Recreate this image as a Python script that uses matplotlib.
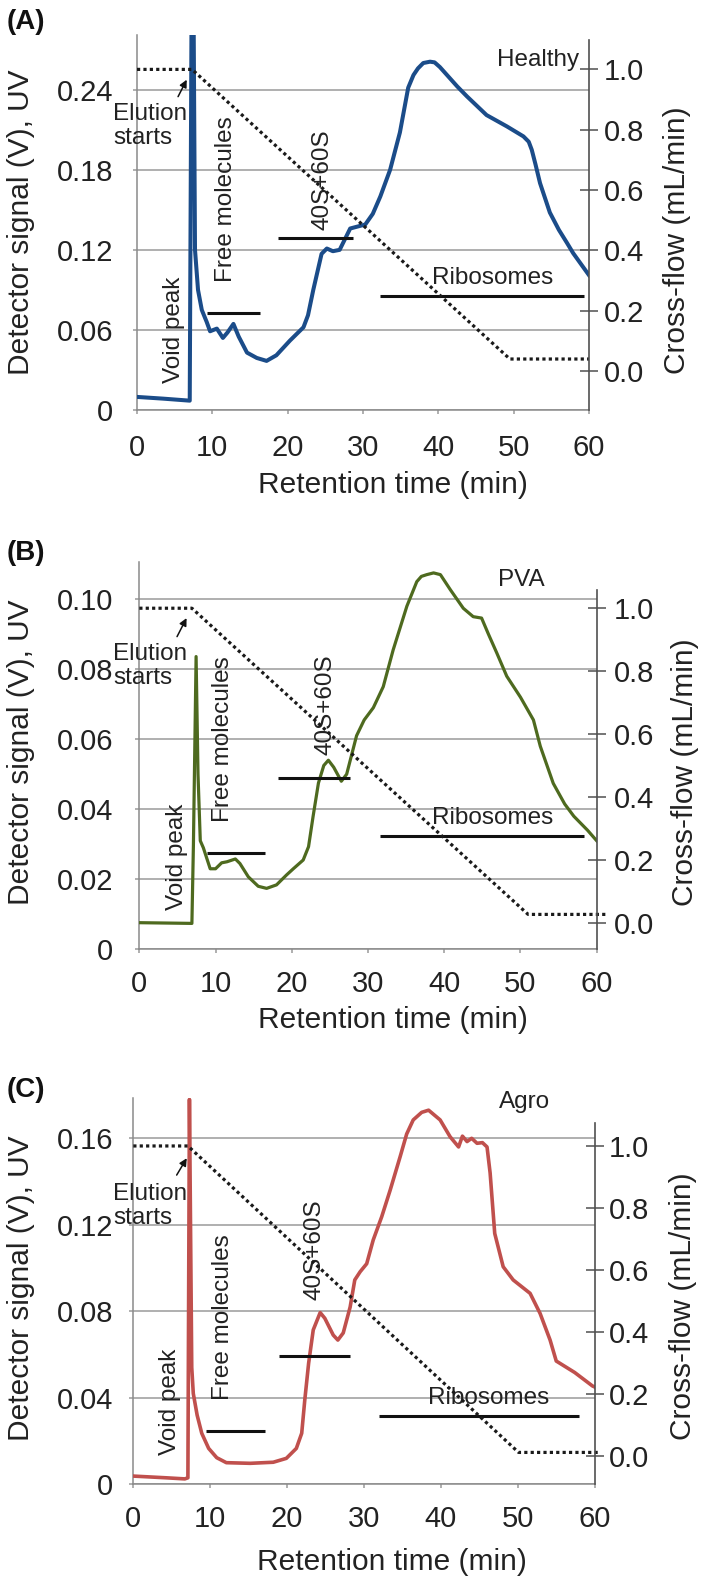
import matplotlib
matplotlib.use('Agg')
import matplotlib.pyplot as plt

plt.rcParams['font.family'] = ['Liberation Sans', 'DejaVu Sans']

W, H = 709, 1580

# detector signal traces (min, V)
healthy_t = [0, 3.5, 7.0, 7.25, 7.5, 7.7, 8.1, 8.6, 9.25, 9.7, 10.6, 11.4, 12.0, 12.8, 13.5, 14.6, 15.9,
             17.2, 18.5, 20.3, 22.1, 22.7, 23.4, 24.5, 25.2, 26.0, 26.9, 27.6, 28.3, 30.3, 31.3, 32.3, 33.6,
             34.9, 36.0, 36.7, 37.3, 38.0, 38.9, 39.5, 40.2, 42.5, 43.8, 46.4, 49.1, 51.3, 52.0, 52.4, 52.9,
             53.5, 54.8, 56.0, 57.1, 57.9, 60]
healthy_uv = [0.0098, 0.0085, 0.007, 0.31, 0.31, 0.12, 0.09, 0.075, 0.066, 0.059, 0.061, 0.054, 0.058, 0.0645,
              0.055, 0.043, 0.039, 0.0368, 0.041, 0.052, 0.062, 0.071, 0.09, 0.117, 0.121, 0.119, 0.120, 0.128,
              0.136, 0.139, 0.147, 0.16, 0.18, 0.208, 0.2415, 0.251, 0.256, 0.26, 0.261, 0.2605, 0.257, 0.2425,
              0.235, 0.221, 0.2125, 0.205, 0.201, 0.195, 0.184, 0.17, 0.148, 0.135, 0.125, 0.1175, 0.101]

pva_t = [0, 3.5, 6.9, 7.1, 7.45, 7.7, 8.0, 8.4, 9.3, 10.0, 10.8, 11.5, 12.6, 13.2, 14.3, 15.6, 16.7, 18.0,
         19.3, 20.2, 21.5, 22.2, 22.8, 23.5, 24.2, 24.8, 25.5, 26.5, 27.2, 28.5, 29.5, 30.7, 32.0, 33.3, 35.1,
         36.4, 37.0, 37.7, 38.6, 39.5, 40.8, 42.5, 43.8, 44.9, 45.8, 46.9, 48.2, 50.0, 51.7, 52.6, 54.3, 55.8,
         57.0, 58.8, 60]
pva_uv = [0.0076, 0.0075, 0.0074, 0.03, 0.0836, 0.05, 0.031, 0.029, 0.023, 0.023, 0.0247, 0.025, 0.0258, 0.0245,
          0.0207, 0.018, 0.0174, 0.0184, 0.0212, 0.023, 0.0255, 0.0293, 0.038, 0.0475, 0.0525, 0.054, 0.052,
          0.048, 0.050, 0.061, 0.0655, 0.069, 0.075, 0.0855, 0.098, 0.105, 0.1065, 0.107, 0.1075, 0.107, 0.1027,
          0.0974, 0.095, 0.0946, 0.09, 0.0846, 0.078, 0.072, 0.0655, 0.058, 0.0474, 0.0415, 0.038, 0.034, 0.031]

agro_t = [0, 4.3, 6.7, 7.1, 7.3, 7.6, 7.8, 8.3, 8.9, 9.8, 10.85, 12.1, 15.2, 18.2, 19.9, 21.2, 21.9, 22.3,
          22.8, 23.4, 24.3, 24.9, 26.0, 26.6, 27.3, 28.2, 28.8, 29.5, 30.35, 31.2, 32.3, 33.4, 34.7, 35.55,
          36.4, 37.5, 38.4, 39.9, 41.2, 42.3, 42.8, 43.4, 44.0, 44.7, 45.4, 46.0, 46.4, 47.0, 48.1, 49.4,
          51.6, 52.9, 54.2, 55.0, 57.4, 59.7, 60]
agro_uv = [0.0038, 0.003, 0.0025, 0.003, 0.178, 0.054, 0.042, 0.032, 0.0236, 0.0166, 0.0123, 0.010, 0.0097,
           0.0102, 0.012, 0.0166, 0.0236, 0.039, 0.056, 0.0714, 0.0794, 0.0768, 0.069, 0.0667, 0.070, 0.082,
           0.0945, 0.0983, 0.102, 0.113, 0.1237, 0.136, 0.1515, 0.162, 0.1685, 0.172, 0.173, 0.1685, 0.1607,
           0.156, 0.161, 0.1585, 0.160, 0.1577, 0.158, 0.156, 0.144, 0.116, 0.1006, 0.0945, 0.0883, 0.079,
           0.0667, 0.057, 0.0517, 0.0455, 0.045]

# cross-flow programmes (min, mL/min)
healthy_flow_t = [0, 7.3, 49.5, 60]
healthy_flow = [1.0, 1.0, 0.04, 0.04]
pva_flow_t = [0, 6.9, 51.0, 61.2]
pva_flow = [1.0, 1.0, 0.026, 0.026]
agro_flow_t = [0, 7.1, 50.1, 60.6]
agro_flow = [1.0, 1.0, 0.01, 0.01]

x_ticks = [0, 10, 20, 30, 40, 50, 60]
flow_ticks = [0.0, 0.2, 0.4, 0.6, 0.8, 1.0]
flow_tick_labels = ['0.0', '0.2', '0.4', '0.6', '0.8', '1.0']

PANELS = [
    dict(letter='(A)', name='Healthy', t=healthy_t, uv=healthy_uv, ft=healthy_flow_t, f=healthy_flow,
         color='#1B4C89', lw=2.9, box=(137, 35, 589, 410), ytop=0.281,
         yticks=[0, 0.06, 0.12, 0.18, 0.24], ylabels=['0', '0.06', '0.12', '0.18', '0.24'],
         flim=(-0.129, 1.114), fspine=1.098, fpad=4.3, xpad=14.5,
         name_xy=(58.7, 0.2625, 'right'), elution=(-3.2, 0.2126), arrow=((6.6, 0.2475), (5.45, 0.2348)),
         void=(4.9, 0.020), free=(11.8, 0.096), s40=(24.6, 0.135), ribo=(47.2, 0.099),
         bars=[(9.25, 16.3, 0.073), (18.7, 28.7, 0.129), (32.3, 59.3, 0.0857)],
         ylab=(21.5, 222), rlab=(677, 240), xlab=(393, 485), letter_y=22),
    dict(letter='(B)', name='PVA', t=pva_t, uv=pva_uv, ft=pva_flow_t, f=pva_flow,
         color='#4E6A1F', lw=2.3, box=(139.3, 561.7, 596.7, 949.3), ytop=0.1107,
         yticks=[0, 0.02, 0.04, 0.06, 0.08, 0.10], ylabels=['0', '0.02', '0.04', '0.06', '0.08', '0.10'],
         flim=(-0.085, 1.148), fspine=1.058, fpad=6.0, xpad=11.8,
         name_xy=(47.0, 0.1055, 'left'), elution=(-3.4, 0.081), arrow=((6.2, 0.0946), (4.95, 0.0893)),
         void=(4.9, 0.0112), free=(11.0, 0.0365), s40=(24.4, 0.0555), ribo=(46.35, 0.0374),
         bars=[(8.85, 16.5, 0.0276), (18.2, 27.65, 0.049), (31.6, 58.3, 0.0324)],
         ylab=(21.5, 752), rlab=(685, 772), xlab=(393, 1020), letter_y=553),
    dict(letter='(C)', name='Agro', t=agro_t, uv=agro_uv, ft=agro_flow_t, f=agro_flow,
         color='#C0504D', lw=2.6, box=(133.3, 1098.3, 594.7, 1484.3), ytop=0.1785,
         yticks=[0, 0.04, 0.08, 0.12, 0.16], ylabels=['0', '0.04', '0.08', '0.12', '0.16'],
         flim=(-0.093, 1.154), fspine=1.073, fpad=4.0, xpad=11.8,
         name_xy=(47.5, 0.177, 'left'), elution=(-2.6, 0.1287), arrow=((6.95, 0.1508), (5.64, 0.143)),
         void=(4.8, 0.0135), free=(11.7, 0.039), s40=(23.6, 0.0852), ribo=(46.2, 0.0399),
         bars=[(9.5, 17.1, 0.0248), (18.9, 28.2, 0.0593), (31.9, 58.0, 0.0318)],
         ylab=(21.5, 1288), rlab=(683, 1306), xlab=(392, 1562), letter_y=1090),
]

TICK_FS = 21
LABEL_FS = 21.5
NOTE_FS = 17.5
GRID = '#9a9a9a'
DARK = '#505050'
TXT = '#222222'


def fig_xy(x, y):
    return x / W, 1 - y / H


def draw_panel(fig, p):
    l, t, r, b = p['box']
    ax = fig.add_axes([l / W, 1 - b / H, (r - l) / W, (b - t) / H])
    ax.plot(p['t'], p['uv'], color=p['color'], lw=p['lw'], solid_joinstyle='round', zorder=3)
    ax.set_xlim(0, 60)
    ax.set_ylim(0, p['ytop'])
    ax.set_xticks(x_ticks)
    ax.set_yticks(p['yticks'])
    ax.set_yticklabels(p['ylabels'])
    ax.grid(axis='y', color=GRID, lw=1.1)
    ax.set_axisbelow(True)
    for side in ('top', 'right'):
        ax.spines[side].set_visible(False)
    for side in ('left', 'bottom'):
        ax.spines[side].set_color('#8a8a8a')
        ax.spines[side].set_linewidth(1.1)
    left_pad = (l - 113.3) * 0.72 - 3
    ax.tick_params(axis='y', length=3, width=1.1, color=GRID, labelsize=TICK_FS, labelcolor=TXT, pad=left_pad)
    ax.tick_params(axis='x', length=3, width=1.1, color=GRID, labelsize=TICK_FS, labelcolor=TXT, pad=p['xpad'])

    # fraction markers
    for x0, x1, y in p['bars']:
        ax.plot([x0, x1], [y, y], color='#111111', lw=2.2, solid_capstyle='butt', zorder=4)

    ax.text(p['void'][0], p['void'][1], 'Void peak', rotation=90, ha='center', va='bottom',
            fontsize=NOTE_FS, color=TXT)
    ax.text(p['free'][0], p['free'][1], 'Free molecules', rotation=90, ha='center', va='bottom',
            fontsize=NOTE_FS, color=TXT)
    ax.text(p['s40'][0], p['s40'][1], '40S+60S', rotation=90, ha='center', va='bottom',
            fontsize=NOTE_FS, color=TXT)
    ax.text(p['ribo'][0], p['ribo'][1], 'Ribosomes', ha='center', va='center', fontsize=NOTE_FS, color=TXT)
    nx, ny, nha = p['name_xy']
    ax.text(nx, ny, p['name'], ha=nha, va='center', fontsize=NOTE_FS, color=TXT)
    ax.text(p['elution'][0], p['elution'][1], 'Elution\nstarts', ha='left', va='center',
            fontsize=NOTE_FS, color=TXT, linespacing=1.1)
    head, tail = p['arrow']
    ax.annotate('', xy=head, xytext=tail,
                arrowprops=dict(arrowstyle='-|>', color='#111111', lw=1.1, mutation_scale=11,
                                shrinkA=0, shrinkB=0))

    ax2 = ax.twinx()
    ax2.plot(p['ft'], p['f'], color='#1a1a1a', lw=2.3, linestyle=(0, (1, 1.0)),
             dash_capstyle='butt', clip_on=False)
    ax2.set_ylim(*p['flim'])
    ax2.set_yticks(flow_ticks)
    ax2.set_yticklabels(flow_tick_labels)
    for side in ('top', 'left', 'bottom'):
        ax2.spines[side].set_visible(False)
    ax2.spines['right'].set_color(DARK)
    ax2.spines['right'].set_linewidth(1.2)
    ax2.spines['right'].set_bounds(p['flim'][0], p['fspine'])
    ax2.tick_params(axis='y', direction='inout', length=12.5, width=1.1, color=DARK,
                    labelsize=TICK_FS, labelcolor=TXT, pad=p['fpad'])

    fx, fy = fig_xy(*p['ylab'])
    fig.text(fx, fy, 'Detector signal (V), UV', rotation=90, ha='center', va='center',
             fontsize=LABEL_FS, color=TXT)
    fx, fy = fig_xy(*p['rlab'])
    fig.text(fx, fy, 'Cross-flow (mL/min)', rotation=90, ha='center', va='center',
             fontsize=LABEL_FS, color=TXT)
    fx, fy = fig_xy(*p['xlab'])
    fig.text(fx, fy, 'Retention time (min)', ha='center', va='center', fontsize=LABEL_FS, color=TXT)
    fx, fy = fig_xy(7, p['letter_y'])
    fig.text(fx, fy, p['letter'], ha='left', va='center', fontsize=20, fontweight='bold', color='#111111')


def main():
    fig = plt.figure(figsize=(W / 100, H / 100), dpi=100)
    fig.patch.set_facecolor('white')
    for p in PANELS:
        draw_panel(fig, p)
    fig.savefig('out.png', dpi=100, facecolor='white')
    plt.close(fig)


if __name__ == '__main__':
    main()
